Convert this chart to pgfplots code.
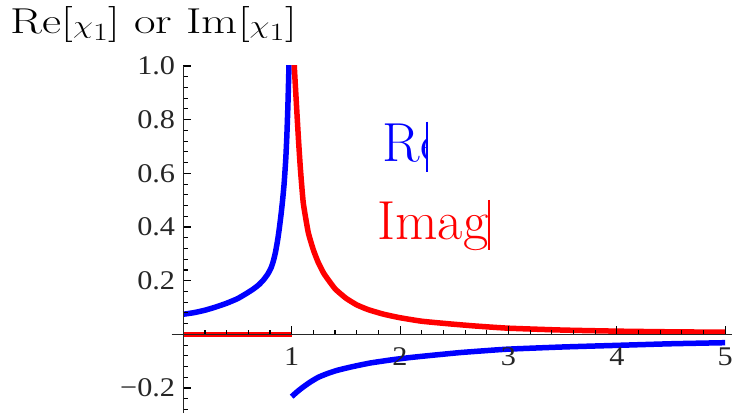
\documentclass[border=0pt]{standalone}
\usepackage{fontspec}
\usepackage{graphicx}
\usepackage{pgfplots}
\pgfplotsset{compat=1.18}
\newfontfamily\tickfont{Liberation Serif}
\newcommand\sx[1]{\scalebox{1.12}[1]{#1}}
\begin{document}
\begin{tikzpicture}[x=1pt,y=1pt]
\begin{axis}[
  scale only axis, width=560pt, height=347pt,
  at={(171.7pt,0pt)}, anchor=south west,
  xmin=-0.107, xmax=5.06, ymin=-0.293, ymax=1.0,
  axis lines=middle, axis on top,
  axis line style={-, line width=1.1pt, black!85},
  xtick={1,2,3,4,5}, xticklabels={\sx{1},\sx{2},\sx{3},\sx{4},\sx{5}},
  ytick={-0.2,0.2,0.4,0.6,0.8,1.0},
  yticklabels={\sx{−0.2},\sx{0.2},\sx{0.4},\sx{0.6},\sx{0.8},\sx{1.0}},
  minor xtick={0.2,0.4,0.6,0.8,1.2,1.4,1.6,1.8,2.2,2.4,2.6,2.8,3.2,3.4,3.6,3.8,4.2,4.4,4.6,4.8},
  minor ytick={-0.28,-0.24,-0.16,-0.12,-0.08,-0.04,0.04,0.08,0.12,0.16,0.24,0.28,0.32,0.36,0.44,0.48,0.52,0.56,0.64,0.68,0.72,0.76,0.84,0.88,0.92,0.96},
  tick align=inside,
  major tick length=8pt, minor tick length=4.5pt,
  tick style={black, line width=1.1pt},
  tick label style={font=\tickfont\fontsize{27}{30}\selectfont, text=black!85},
  xticklabel style={anchor=north, inner sep=0pt, yshift=-13pt},
  yticklabel style={anchor=east, inner sep=0pt, xshift=-8pt},
]
\addplot[blue, line width=5.5pt, smooth, tension=0.3] coordinates {
(0,0.075) (0.1,0.081) (0.2,0.090) (0.3,0.102) (0.4,0.116) (0.5,0.133)
(0.585,0.153) (0.65,0.170) (0.7,0.186) (0.74,0.203) (0.78,0.225) (0.81,0.248)
(0.83,0.272) (0.85,0.305) (0.87,0.350) (0.885,0.392) (0.9,0.44) (0.915,0.495)
(0.93,0.56) (0.945,0.65) (0.955,0.735) (0.965,0.85) (0.975,1.0) (0.98,1.08)
};
\addplot[red, line width=5.5pt] coordinates {(0,0) (1.0,0)};
\addplot[red, line width=5.5pt, smooth, tension=0.3] coordinates {
(1.02,1.08) (1.024,1.0) (1.061,0.738) (1.08,0.62) (1.107,0.49) (1.153,0.38)
(1.2,0.315) (1.245,0.268) (1.3,0.225) (1.4,0.170) (1.5,0.135) (1.6,0.110)
(1.707,0.092) (1.85,0.075) (2.0,0.062) (2.2,0.049) (2.46,0.039) (2.7,0.031)
(3.0,0.023) (3.5,0.016) (4.0,0.012) (4.5,0.0095) (5.0,0.008)
};
\addplot[blue, line width=5.5pt, smooth, tension=0.3] coordinates {
(1.0,-0.232) (1.05,-0.214) (1.1,-0.198) (1.17,-0.178) (1.245,-0.160)
(1.33,-0.146) (1.42,-0.134) (1.553,-0.121) (1.72,-0.107) (1.92,-0.095)
(2.1,-0.086) (2.32,-0.077) (2.55,-0.068) (2.78,-0.061) (3.0,-0.055)
(3.5,-0.047) (4.0,-0.041) (4.5,-0.035) (5.0,-0.031)
};
\end{axis}
\node[anchor=base west, inner sep=0pt] at (10.5,379.7)
  {\fontsize{36}{42}\selectfont\scalebox{1.3}[1]{Re[$\chi_1$] or Im[$\chi_1$]}};
\begin{scope}
  \clip (370,230) rectangle (426.7,300);
  \node[anchor=base west, inner sep=0pt, text=blue] at (382.5,251.3)
    {\fontsize{55}{60}\selectfont Re};
\end{scope}
\draw[blue, line width=1.8pt] (426.7,291.3) -- (426.7,241.3);
\begin{scope}
  \clip (370,150) rectangle (489.3,220);
  \node[anchor=base west, inner sep=0pt, text=red] at (377.2,173)
    {\fontsize{55}{60}\selectfont Imag};
\end{scope}
\draw[red, line width=1.8pt] (489.3,213) -- (489.3,163);
\pgfresetboundingbox
\path[use as bounding box] (0,0) rectangle (732,413);
\end{tikzpicture}
\end{document}
